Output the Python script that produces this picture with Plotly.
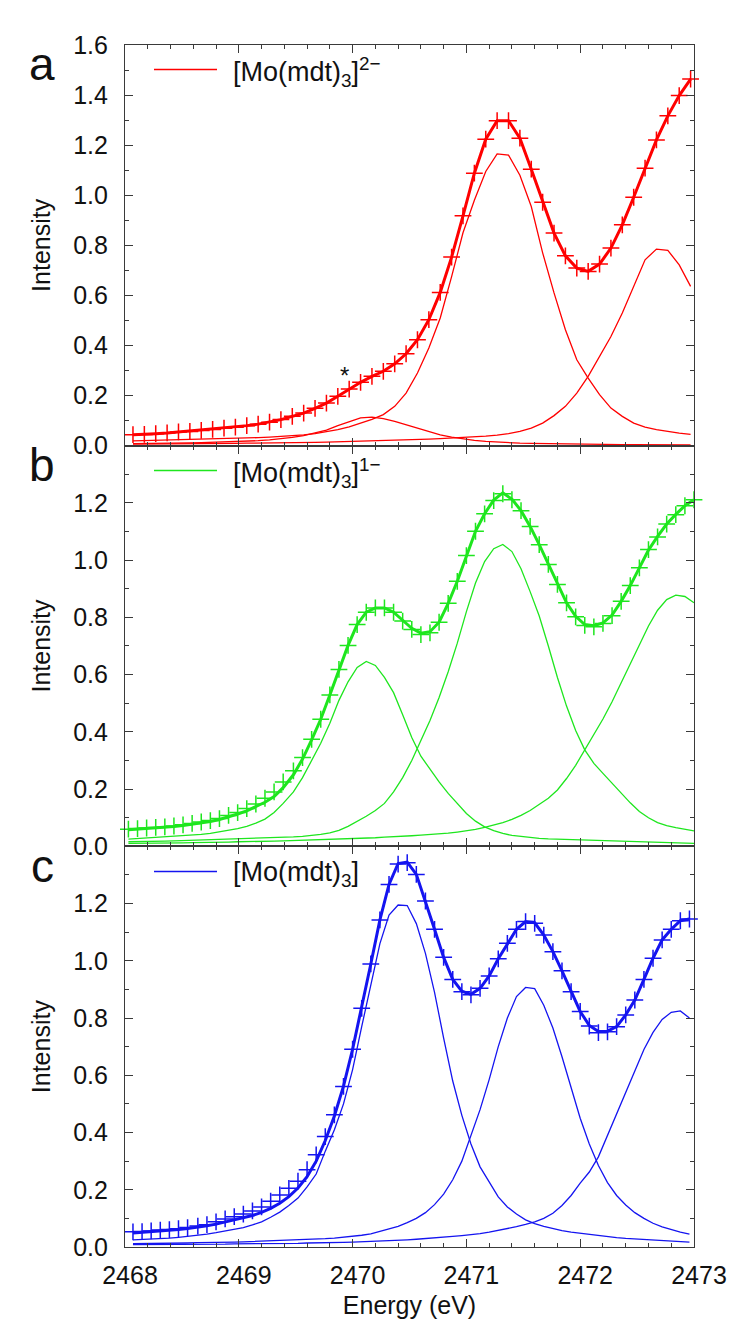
import plotly.graph_objects as go
from plotly.subplots import make_subplots

# ---------------- data ----------------
E_a = [2468.07, 2468.17, 2468.27, 2468.37, 2468.47, 2468.57, 2468.67, 2468.77, 2468.87, 2468.97,
       2469.07, 2469.17, 2469.27, 2469.37, 2469.47, 2469.57, 2469.67, 2469.77, 2469.87, 2469.97,
       2470.07, 2470.17, 2470.27, 2470.37, 2470.47, 2470.57, 2470.67, 2470.77, 2470.87, 2470.97,
       2471.07, 2471.17, 2471.27, 2471.37, 2471.47, 2471.57, 2471.67, 2471.77, 2471.87, 2471.97,
       2472.07, 2472.17, 2472.27, 2472.37, 2472.47, 2472.57, 2472.67, 2472.77, 2472.87, 2472.97]
data_a = [0.044, 0.045, 0.048, 0.051, 0.055, 0.057, 0.061, 0.065, 0.070, 0.074,
          0.080, 0.086, 0.094, 0.104, 0.117, 0.130, 0.149, 0.170, 0.197, 0.226,
          0.253, 0.277, 0.297, 0.327, 0.367, 0.423, 0.503, 0.612, 0.753, 0.918,
          1.088, 1.224, 1.298, 1.298, 1.228, 1.104, 0.972, 0.849, 0.758, 0.709,
          0.696, 0.725, 0.789, 0.882, 0.992, 1.108, 1.221, 1.317, 1.398, 1.464]
comp_a1 = [0.008, 0.008, 0.009, 0.009, 0.010, 0.011, 0.012, 0.013, 0.014, 0.016,
           0.018, 0.020, 0.023, 0.027, 0.033, 0.040, 0.050, 0.062, 0.080, 0.097,
           0.111, 0.114, 0.108, 0.097, 0.083, 0.068, 0.054, 0.043, 0.034, 0.027,
           0.021, 0.017, 0.014, 0.012, 0.010, 0.009, 0.008, 0.007, 0.006, 0.006,
           0.005, 0.005, 0.005, 0.004, 0.004, 0.004, 0.004, 0.004, 0.003, 0.003]
comp_a2 = [0.019, 0.020, 0.021, 0.022, 0.023, 0.024, 0.025, 0.026, 0.027, 0.028,
           0.030, 0.032, 0.034, 0.036, 0.039, 0.043, 0.048, 0.055, 0.064, 0.075,
           0.090, 0.105, 0.124, 0.157, 0.210, 0.290, 0.390, 0.510, 0.675, 0.850,
           0.980, 1.095, 1.165, 1.160, 1.080, 0.955, 0.770, 0.610, 0.463, 0.343,
           0.270, 0.204, 0.150, 0.117, 0.090, 0.074, 0.064, 0.056, 0.050, 0.045]
comp_a3 = [0.006, 0.006, 0.006, 0.007, 0.007, 0.007, 0.008, 0.008, 0.009, 0.009,
           0.010, 0.010, 0.011, 0.011, 0.012, 0.013, 0.013, 0.014, 0.015, 0.016,
           0.017, 0.018, 0.019, 0.020, 0.022, 0.024, 0.026, 0.028, 0.030, 0.032,
           0.035, 0.038, 0.042, 0.048, 0.057, 0.070, 0.090, 0.120, 0.157, 0.210,
           0.277, 0.356, 0.436, 0.530, 0.636, 0.742, 0.785, 0.780, 0.722, 0.636]

E_b = [2468.03, 2468.11, 2468.19, 2468.27, 2468.35, 2468.43, 2468.51, 2468.59, 2468.67, 2468.75,
       2468.83, 2468.91, 2468.99, 2469.07, 2469.15, 2469.23, 2469.31, 2469.39, 2469.48, 2469.56,
       2469.64, 2469.72, 2469.80, 2469.88, 2469.96, 2470.04, 2470.12, 2470.20, 2470.28, 2470.36,
       2470.44, 2470.52, 2470.60, 2470.68, 2470.76, 2470.84, 2470.92, 2471.00, 2471.08, 2471.16,
       2471.24, 2471.32, 2471.40, 2471.48, 2471.56, 2471.64, 2471.72, 2471.80, 2471.88, 2471.96,
       2472.04, 2472.12, 2472.20, 2472.28, 2472.36, 2472.44, 2472.52, 2472.60, 2472.68, 2472.76,
       2472.84, 2472.92, 2473.00]
data_b = [0.060, 0.062, 0.064, 0.066, 0.068, 0.071, 0.075, 0.080, 0.085, 0.090,
          0.097, 0.108, 0.118, 0.132, 0.148, 0.168, 0.190, 0.225, 0.264, 0.310,
          0.374, 0.444, 0.529, 0.618, 0.702, 0.775, 0.818, 0.833, 0.833, 0.818,
          0.787, 0.758, 0.740, 0.746, 0.783, 0.849, 0.926, 1.016, 1.101, 1.162,
          1.208, 1.232, 1.211, 1.173, 1.118, 1.054, 0.985, 0.915, 0.851, 0.802,
          0.772, 0.767, 0.779, 0.806, 0.856, 0.911, 0.973, 1.037, 1.081, 1.126,
          1.159, 1.190, 1.211]
fit_b = [0.058, 0.060, 0.062, 0.064, 0.066, 0.069, 0.073, 0.077, 0.082, 0.087,
         0.094, 0.103, 0.113, 0.124, 0.138, 0.154, 0.174, 0.205, 0.250, 0.305,
         0.372, 0.444, 0.529, 0.618, 0.702, 0.775, 0.818, 0.833, 0.833, 0.818,
         0.790, 0.762, 0.745, 0.750, 0.783, 0.849, 0.926, 1.016, 1.101, 1.162,
         1.210, 1.235, 1.213, 1.173, 1.118, 1.054, 0.985, 0.915, 0.851, 0.804,
         0.775, 0.771, 0.781, 0.808, 0.856, 0.911, 0.973, 1.035, 1.083, 1.126,
         1.160, 1.190, 1.211]
comp_b1 = [0.025, 0.027, 0.028, 0.030, 0.032, 0.034, 0.036, 0.039, 0.042, 0.045,
           0.050, 0.055, 0.062, 0.070, 0.081, 0.095, 0.118, 0.150, 0.190, 0.240,
           0.300, 0.360, 0.430, 0.510, 0.575, 0.625, 0.646, 0.632, 0.590, 0.537,
           0.460, 0.380, 0.315, 0.270, 0.225, 0.185, 0.148, 0.115, 0.088, 0.068,
           0.055, 0.045, 0.038, 0.034, 0.031, 0.028, 0.026, 0.025, 0.023, 0.022,
           0.020, 0.019, 0.018, 0.017, 0.016, 0.015, 0.014, 0.013, 0.012, 0.012,
           0.011, 0.011, 0.010]
comp_b2 = [0.016, 0.016, 0.017, 0.018, 0.018, 0.019, 0.020, 0.020, 0.021, 0.022,
           0.023, 0.024, 0.025, 0.026, 0.027, 0.028, 0.030, 0.031, 0.033, 0.035,
           0.038, 0.042, 0.047, 0.056, 0.070, 0.087, 0.105, 0.125, 0.150, 0.190,
           0.240, 0.300, 0.370, 0.440, 0.520, 0.610, 0.710, 0.820, 0.920, 0.995,
           1.040, 1.055, 1.030, 0.970, 0.890, 0.805, 0.700, 0.590, 0.490, 0.405,
           0.337, 0.290, 0.255, 0.220, 0.185, 0.152, 0.122, 0.100, 0.083, 0.072,
           0.065, 0.059, 0.054]
comp_b3 = [0.010, 0.010, 0.011, 0.011, 0.011, 0.012, 0.012, 0.013, 0.013, 0.014,
           0.014, 0.015, 0.016, 0.016, 0.017, 0.018, 0.018, 0.019, 0.020, 0.021,
           0.022, 0.023, 0.024, 0.025, 0.026, 0.027, 0.029, 0.030, 0.032, 0.033,
           0.035, 0.037, 0.039, 0.041, 0.043, 0.046, 0.050, 0.054, 0.059, 0.066,
           0.074, 0.083, 0.094, 0.108, 0.125, 0.145, 0.168, 0.197, 0.237, 0.283,
           0.337, 0.390, 0.445, 0.505, 0.570, 0.640, 0.705, 0.770, 0.825, 0.862,
           0.878, 0.873, 0.851]

E_c = [2468.07, 2468.15, 2468.23, 2468.31, 2468.39, 2468.47, 2468.55, 2468.64, 2468.72, 2468.80,
       2468.88, 2468.96, 2469.04, 2469.12, 2469.20, 2469.28, 2469.36, 2469.44, 2469.52, 2469.60,
       2469.68, 2469.76, 2469.84, 2469.92, 2470.00, 2470.08, 2470.16, 2470.24, 2470.32, 2470.40,
       2470.48, 2470.56, 2470.64, 2470.72, 2470.80, 2470.88, 2470.96, 2471.04, 2471.12, 2471.20,
       2471.28, 2471.36, 2471.44, 2471.52, 2471.60, 2471.68, 2471.76, 2471.84, 2471.92, 2472.00,
       2472.08, 2472.16, 2472.24, 2472.32, 2472.40, 2472.48, 2472.56, 2472.64, 2472.72, 2472.80,
       2472.88, 2472.96]
data_c = [0.053, 0.054, 0.056, 0.059, 0.061, 0.064, 0.068, 0.073, 0.078, 0.088,
          0.098, 0.106, 0.115, 0.126, 0.140, 0.160, 0.182, 0.205, 0.230, 0.270,
          0.322, 0.386, 0.462, 0.561, 0.691, 0.834, 0.989, 1.143, 1.267, 1.338,
          1.343, 1.302, 1.209, 1.110, 1.012, 0.935, 0.892, 0.881, 0.904, 0.947,
          1.007, 1.061, 1.110, 1.137, 1.131, 1.090, 1.032, 0.965, 0.892, 0.823,
          0.772, 0.749, 0.752, 0.770, 0.811, 0.863, 0.935, 1.009, 1.073, 1.110,
          1.140, 1.146]
fit_c = [0.049, 0.051, 0.053, 0.055, 0.058, 0.061, 0.065, 0.069, 0.074, 0.080,
         0.087, 0.094, 0.101, 0.110, 0.121, 0.135, 0.153, 0.176, 0.206, 0.246,
         0.300, 0.372, 0.458, 0.562, 0.691, 0.834, 0.989, 1.143, 1.267, 1.340,
         1.345, 1.302, 1.209, 1.110, 1.012, 0.935, 0.894, 0.883, 0.904, 0.947,
         1.007, 1.061, 1.110, 1.137, 1.133, 1.090, 1.032, 0.965, 0.892, 0.823,
         0.774, 0.753, 0.754, 0.770, 0.811, 0.863, 0.935, 1.009, 1.073, 1.110,
         1.140, 1.146]
comp_c1 = [0.025, 0.026, 0.027, 0.029, 0.031, 0.034, 0.037, 0.041, 0.045, 0.050,
           0.056, 0.062, 0.068, 0.077, 0.088, 0.104, 0.122, 0.145, 0.171, 0.210,
           0.255, 0.335, 0.410, 0.500, 0.620, 0.770, 0.920, 1.060, 1.160, 1.195,
           1.193, 1.130, 1.026, 0.890, 0.730, 0.580, 0.460, 0.360, 0.280, 0.225,
           0.175, 0.140, 0.115, 0.095, 0.082, 0.072, 0.064, 0.057, 0.052, 0.048,
           0.044, 0.040, 0.035, 0.033, 0.030, 0.028, 0.026, 0.024, 0.022, 0.020,
           0.018, 0.017]
comp_c2 = [0.012, 0.012, 0.013, 0.013, 0.013, 0.014, 0.014, 0.015, 0.015, 0.016,
           0.017, 0.017, 0.018, 0.019, 0.020, 0.021, 0.022, 0.023, 0.024, 0.026,
           0.027, 0.029, 0.031, 0.034, 0.037, 0.041, 0.046, 0.055, 0.063, 0.072,
           0.085, 0.100, 0.120, 0.148, 0.185, 0.235, 0.300, 0.390, 0.480, 0.585,
           0.700, 0.800, 0.875, 0.907, 0.903, 0.845, 0.765, 0.665, 0.560, 0.450,
           0.360, 0.285, 0.225, 0.180, 0.147, 0.120, 0.100, 0.083, 0.070, 0.060,
           0.052, 0.045]
comp_c3 = [0.008, 0.008, 0.008, 0.009, 0.009, 0.009, 0.009, 0.010, 0.010, 0.010,
           0.010, 0.011, 0.011, 0.011, 0.012, 0.012, 0.012, 0.013, 0.013, 0.014,
           0.014, 0.015, 0.016, 0.016, 0.017, 0.018, 0.019, 0.020, 0.021, 0.023,
           0.025, 0.027, 0.029, 0.031, 0.034, 0.037, 0.040, 0.043, 0.047, 0.052,
           0.058, 0.064, 0.071, 0.079, 0.088, 0.100, 0.118, 0.145, 0.180, 0.223,
           0.262, 0.315, 0.390, 0.468, 0.540, 0.615, 0.690, 0.750, 0.795, 0.820,
           0.825, 0.800]

panel_labels = ["a", "b", "c"]
legend_labels = ["[Mo(mdt)<sub>3</sub>]<sup>2\u2212</sup>",
                 "[Mo(mdt)<sub>3</sub>]<sup>1\u2212</sup>",
                 "[Mo(mdt)<sub>3</sub>]"]
colors = ["#ff0000", "#1ee61e", "#1414f0"]
x_ticks = [2468, 2469, 2470, 2471, 2472, 2473]
y_ticks_a = [0.0, 0.2, 0.4, 0.6, 0.8, 1.0, 1.2, 1.4, 1.6]
y_ticks_bc = [0.0, 0.2, 0.4, 0.6, 0.8, 1.0, 1.2]
y_minor_a = [0.1, 0.3, 0.5, 0.7, 0.9, 1.1, 1.3, 1.5]
y_minor_bc = [0.1, 0.3, 0.5, 0.7, 0.9, 1.1, 1.3]

panels = [
    (E_a, data_a, data_a, [comp_a1, comp_a2, comp_a3]),
    (E_b, data_b, fit_b, [comp_b1, comp_b2, comp_b3]),
    (E_c, data_c, fit_c, [comp_c1, comp_c2, comp_c3]),
]

FONT = "Liberation Sans, Arial, Helvetica, sans-serif"
AX = "#3a3a3a"

fig = make_subplots(rows=3, cols=1, shared_xaxes=True, vertical_spacing=0)

for i, (E, dat, fit, comps) in enumerate(panels):
    r = i + 1
    col = colors[i]
    for comp in comps:
        fig.add_trace(go.Scatter(x=E, y=comp, mode="lines",
                                 line=dict(color=col, width=1.3),
                                 showlegend=False, hoverinfo="skip"), row=r, col=1)
    fig.add_trace(go.Scatter(x=E, y=fit, mode="lines",
                             line=dict(color=col, width=3),
                             showlegend=False), row=r, col=1)
    fig.add_trace(go.Scatter(x=E, y=dat, mode="markers",
                             marker=dict(symbol="cross-thin", size=12,
                                         line=dict(color=col, width=1.5)),
                             cliponaxis=False, showlegend=False), row=r, col=1)

axis_common = dict(showline=True, linecolor=AX, linewidth=1.1, mirror="allticks",
                   ticks="inside", tickcolor=AX, tickwidth=1.2, ticklen=8,
                   showgrid=False, zeroline=False,
                   tickfont=dict(family=FONT, size=25, color="#111111"))

for r in range(1, 4):
    fig.update_xaxes(range=[2468, 2473], tickmode="array", tickvals=x_ticks,
                     minor=dict(dtick=0.2, tick0=2468, ticks="inside", ticklen=4,
                                tickcolor=AX, tickwidth=1.1),
                     showticklabels=(r == 3), row=r, col=1, **axis_common)
    if r == 1:
        fig.update_yaxes(range=[0, 1.6], tickmode="array", tickvals=y_ticks_a,
                         tickformat=".1f",
                         minor=dict(tickmode="array", tickvals=y_minor_a, ticks="inside",
                                    ticklen=4, tickcolor=AX, tickwidth=1.1),
                         row=r, col=1, **axis_common)
    else:
        fig.update_yaxes(range=[0, 1.4], tickmode="array", tickvals=y_ticks_bc,
                         tickformat=".1f",
                         minor=dict(tickmode="array", tickvals=y_minor_bc, ticks="inside",
                                    ticklen=4, tickcolor=AX, tickwidth=1.1),
                         row=r, col=1, **axis_common)
    fig.update_yaxes(title=dict(text="Intensity", font=dict(family=FONT, size=25, color="#111111"),
                                standoff=15), ticklabelstandoff=11, row=r, col=1)

fig.update_xaxes(title=dict(text="Energy (eV)", font=dict(family=FONT, size=25, color="#111111"),
                            standoff=8), ticklabelstandoff=6, ticklabelshift=5, row=3, col=1)

# panel letters, legends (positions given in page pixels of the plot area)
W0, W1 = 125, 694
T0, T1 = 45, 1247
def px_x(x):
    return (x - W0) / (W1 - W0)
def px_y(y):
    return (T1 - y) / (T1 - T0)

panel_tops = [45, 446, 847]
annotations = []
shapes = []
for i in range(3):
    top = panel_tops[i]
    annotations.append(dict(text=panel_labels[i], xref="paper", yref="paper",
                            x=px_x(42), y=px_y(top + 19), xanchor="center", yanchor="middle",
                            showarrow=False, font=dict(family=FONT, size=46, color="#111111")))
    shapes.append(dict(type="line", xref="paper", yref="paper",
                       x0=px_x(154), x1=px_x(217), y0=px_y(top + 24.5), y1=px_y(top + 24.5),
                       line=dict(color=colors[i], width=1.3)))
    annotations.append(dict(text=legend_labels[i], xref="paper", yref="paper",
                            x=px_x(231), y=px_y(top + 27), xanchor="left", yanchor="middle",
                            showarrow=False, font=dict(family=FONT, size=27, color="#111111")))

annotations.append(dict(text="*", x=2469.93, y=0.28, xref="x", yref="y",
                        showarrow=False, font=dict(family=FONT, size=24, color="#111111")))

# the page body has an 8 px default margin, so the figure is sized/offset to compensate
fig.update_layout(width=742, height=1327,
                  margin=dict(l=117, r=56, t=37, b=88),
                  paper_bgcolor="white", plot_bgcolor="white",
                  showlegend=False, annotations=annotations, shapes=shapes,
                  font=dict(family=FONT))

fig.write_html("out.html")
